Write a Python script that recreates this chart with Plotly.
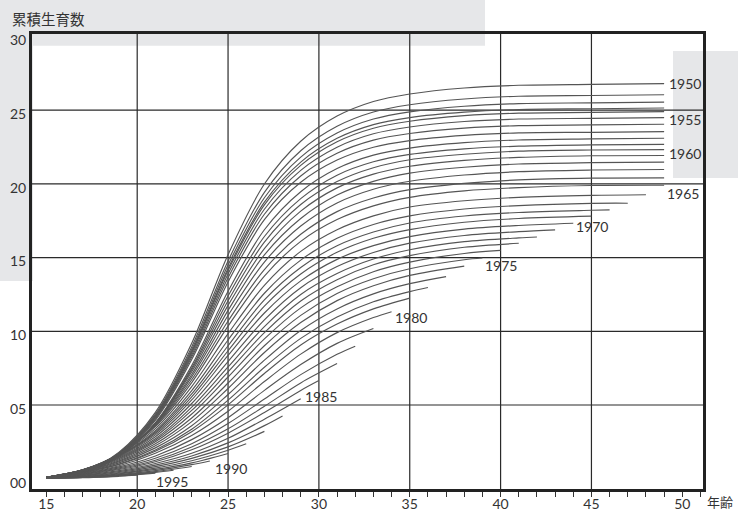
import plotly.graph_objects as go

# ---------------- data ----------------
AGE_KNOTS = [15, 17, 19, 21, 23, 25, 27, 29, 31, 33, 35, 38, 41, 45, 49]
COHORTS = list(range(1950, 1996))
LAST_AGE = [49] * 16 + [48, 47, 46, 45, 44, 43, 42, 41, 40, 39, 38, 37, 36, 35, 34,
                        33, 32, 31, 30, 29, 28, 27, 26, 25, 24, 23, 22, 21, 20, 19]

c1950 = [0.05, 0.46, 1.80, 4.50, 9.19, 15.20, 19.99, 22.89, 24.60, 25.59, 26.10, 26.51, 26.69, 26.75, 26.80]
c1951 = [0.05, 0.44, 1.75, 4.38, 8.94, 14.77, 19.43, 22.25, 23.91, 24.88, 25.37, 25.76, 25.95, 26.00, 26.05]
c1952 = [0.05, 0.43, 1.71, 4.29, 8.76, 14.49, 19.06, 21.82, 23.45, 24.40, 24.89, 25.27, 25.45, 25.50, 25.55]
c1953 = [0.05, 0.43, 1.69, 4.23, 8.63, 14.26, 18.76, 21.48, 23.09, 24.02, 24.50, 24.87, 25.05, 25.10, 25.15]
c1954 = [0.05, 0.42, 1.67, 4.18, 8.54, 14.12, 18.58, 21.26, 22.86, 23.78, 24.25, 24.63, 24.80, 24.85, 24.90]
c1955 = [0.05, 0.42, 1.64, 4.12, 8.40, 13.89, 18.28, 20.92, 22.49, 23.40, 23.86, 24.23, 24.40, 24.45, 24.50]
c1956 = [0.05, 0.41, 1.61, 4.04, 8.25, 13.64, 17.94, 20.54, 22.08, 22.97, 23.42, 23.78, 23.95, 24.00, 24.05]
c1957 = [0.05, 0.40, 1.58, 3.96, 8.08, 13.35, 17.57, 20.11, 21.62, 22.49, 22.94, 23.29, 23.46, 23.50, 23.55]
c1958 = [0.05, 0.39, 1.52, 3.79, 7.67, 12.71, 16.89, 19.47, 21.04, 21.95, 22.43, 22.80, 22.98, 23.05, 23.10]
c1959 = [0.06, 0.43, 1.57, 3.77, 7.51, 12.39, 16.43, 19.00, 20.59, 21.50, 22.00, 22.38, 22.56, 22.65, 22.68]
c1960 = [0.07, 0.47, 1.59, 3.73, 7.40, 12.07, 16.05, 18.60, 20.16, 21.10, 21.64, 22.01, 22.22, 22.30, 22.33]
c1961 = [0.08, 0.50, 1.62, 3.72, 7.25, 11.76, 15.61, 18.15, 19.73, 20.66, 21.20, 21.60, 21.80, 21.91, 21.93]
c1962 = [0.09, 0.54, 1.66, 3.70, 7.07, 11.42, 15.18, 17.65, 19.24, 20.17, 20.73, 21.13, 21.35, 21.44, 21.48]
c1963 = [0.10, 0.57, 1.68, 3.64, 6.91, 11.07, 14.70, 17.14, 18.71, 19.64, 20.18, 20.60, 20.83, 20.94, 20.98]
c1964 = [0.10, 0.59, 1.68, 3.60, 6.71, 10.70, 14.19, 16.58, 18.12, 19.04, 19.61, 20.04, 20.27, 20.39, 20.41]
c1965 = [0.10, 0.60, 1.68, 3.53, 6.52, 10.35, 13.75, 16.10, 17.58, 18.51, 19.09, 19.53, 19.75, 19.89, 19.91]
c1966 = [0.10, 0.60, 1.64, 3.40, 6.25, 9.84, 13.12, 15.42, 16.89, 17.83, 18.43, 18.86, 19.09, 19.22, 19.26]
c1967 = [0.10, 0.60, 1.59, 3.26, 5.98, 9.41, 12.58, 14.83, 16.31, 17.25, 17.83, 18.30, 18.53, 18.68, 18.69]
c1968 = [0.10, 0.60, 1.57, 3.17, 5.75, 9.02, 12.13, 14.33, 15.81, 16.74, 17.35, 17.82, 18.06, 18.21, 18.24]
c1969 = [0.10, 0.59, 1.54, 3.08, 5.55, 8.68, 11.71, 13.89, 15.36, 16.31, 16.90, 17.40, 17.65, 17.81]
c1970 = [0.10, 0.59, 1.50, 2.97, 5.34, 8.36, 11.24, 13.42, 14.88, 15.81, 16.42, 16.93, 17.18, 17.33]
c1971 = [0.10, 0.58, 1.45, 2.85, 5.10, 7.95, 10.78, 12.96, 14.39, 15.35, 15.98, 16.50, 16.76, 16.88]
c1972 = [0.10, 0.57, 1.40, 2.71, 4.85, 7.58, 10.32, 12.50, 13.92, 14.90, 15.53, 16.08, 16.34, 16.40]
c1973 = [0.10, 0.55, 1.35, 2.61, 4.63, 7.24, 9.91, 12.06, 13.50, 14.51, 15.13, 15.70, 15.97]
c1974 = [0.10, 0.54, 1.29, 2.51, 4.39, 6.90, 9.48, 11.59, 13.02, 14.04, 14.69, 15.28, 15.49]
c1975 = [0.10, 0.51, 1.21, 2.37, 4.12, 6.49, 9.02, 11.08, 12.56, 13.56, 14.24, 14.85, 14.97]
c1976 = [0.10, 0.48, 1.15, 2.23, 3.87, 6.12, 8.56, 10.59, 12.08, 13.09, 13.79, 14.42]
c1977 = [0.10, 0.45, 1.07, 2.09, 3.59, 5.71, 8.04, 10.06, 11.52, 12.54, 13.23, 13.71]
c1978 = [0.10, 0.44, 0.99, 1.95, 3.36, 5.33, 7.56, 9.52, 10.97, 12.00, 12.69, 12.97]
c1979 = [0.10, 0.42, 0.96, 1.86, 3.19, 5.01, 7.14, 9.07, 10.49, 11.52, 12.25]
c1980 = [0.10, 0.40, 0.88, 1.72, 2.93, 4.58, 6.59, 8.45, 9.91, 10.93, 11.33]
c1981 = [0.09, 0.36, 0.80, 1.54, 2.65, 4.14, 5.99, 7.74, 9.18, 10.19]
c1982 = [0.09, 0.33, 0.73, 1.39, 2.37, 3.74, 5.40, 7.06, 8.44, 8.99]
c1983 = [0.08, 0.30, 0.67, 1.25, 2.15, 3.38, 4.91, 6.50, 7.81]
c1984 = [0.08, 0.28, 0.62, 1.15, 1.96, 3.09, 4.49, 5.99, 6.66]
c1985 = [0.07, 0.24, 0.55, 1.03, 1.72, 2.74, 4.04, 5.43]
c1986 = [0.07, 0.21, 0.48, 0.92, 1.54, 2.43, 3.60, 4.26]
c1987 = [0.06, 0.18, 0.42, 0.82, 1.38, 2.16, 3.21]
c1988 = [0.06, 0.16, 0.37, 0.72, 1.22, 1.93, 2.37]
c1989 = [0.05, 0.13, 0.33, 0.63, 1.07, 1.71]
c1990 = [0.04, 0.12, 0.28, 0.55, 0.95, 1.20]
c1991 = [0.04, 0.11, 0.25, 0.48, 0.83]
c1992 = [0.03, 0.10, 0.22, 0.43, 0.57]
c1993 = [0.03, 0.08, 0.19, 0.38]
c1994 = [0.03, 0.08, 0.17, 0.24]
c1995 = [0.02, 0.07, 0.16]

SERIES = [c1950, c1951, c1952, c1953, c1954, c1955, c1956, c1957, c1958, c1959,
          c1960, c1961, c1962, c1963, c1964, c1965, c1966, c1967, c1968, c1969,
          c1970, c1971, c1972, c1973, c1974, c1975, c1976, c1977, c1978, c1979,
          c1980, c1981, c1982, c1983, c1984, c1985, c1986, c1987, c1988, c1989,
          c1990, c1991, c1992, c1993, c1994, c1995]

LABELED = [1950, 1955, 1960, 1965, 1970, 1975, 1980, 1985, 1990, 1995]
X_TICKS = [15, 20, 25, 30, 35, 40, 45, 50]
Y_TICKS = [0, 5, 10, 15, 20, 25, 30]
Y_TICKTEXT = ["00", "05", "10", "15", "20", "25", "30"]
X_GRID = [20, 25, 30, 35, 40, 45]
Y_GRID = [5, 10, 15, 20, 25]

# ---------------- style ----------------
LINE_COLOR = "#555555"
TEXT_COLOR = "#333333"
AXIS_COLOR = "#222222"
GRAY = "#e6e7e9"
FONT = "Lato, 'Noto Sans', sans-serif"
CJK = "'Noto Sans CJK JP', 'Noto Sans CJK SC', sans-serif"

W, H = 738, 512
L, R, T, B = 32, 703, 34, 489        # plot area in pixels
PW, PH = R - L, B - T


def px(xp):
    return (xp - L) / PW


def py(yp):
    return (B - yp) / PH


# label offsets (pixels) relative to line ends
LABEL_SHIFT = {1950: (3, 0), 1955: (3, -2), 1960: (3, -4), 1965: (1, -8),
               1970: (1, -3), 1975: (1, -7), 1980: (1, -6), 1985: (2, 2),
               1990: (3, -7), 1995: (35, -5)}

fig = go.Figure()

ends = {}
for cohort, last, vals in zip(COHORTS, LAST_AGE, SERIES):
    xs = [a for a in AGE_KNOTS if a < last] + [last]
    fig.add_trace(go.Scatter(
        x=xs, y=vals, mode="lines",
        line=dict(color=LINE_COLOR, width=1.15, shape="spline", smoothing=0.9),
        hoverinfo="skip", showlegend=False,
    ))
    ends[cohort] = (xs[-1], vals[-1])

shapes = [
    # decorative gray panels
    dict(type="rect", xref="paper", yref="paper", x0=px(0), x1=px(485),
         y0=py(45.7), y1=py(0), fillcolor=GRAY, line_width=0, layer="below"),
    dict(type="rect", xref="paper", yref="paper", x0=px(0), x1=px(33),
         y0=py(281), y1=py(0), fillcolor=GRAY, line_width=0, layer="below"),
    dict(type="rect", xref="paper", yref="paper", x0=px(673), x1=px(738),
         y0=py(178), y1=py(51), fillcolor=GRAY, line_width=0, layer="below"),
]
for gx in X_GRID:
    shapes.append(dict(type="line", xref="x", yref="paper", x0=gx, x1=gx, y0=0, y1=1,
                       line=dict(color="#2a2a2a", width=1.2), layer="below"))
for gy in Y_GRID:
    shapes.append(dict(type="line", xref="paper", yref="y", x0=0, x1=1, y0=gy, y1=gy,
                       line=dict(color="#2a2a2a", width=1.2), layer="below"))

annotations = []
for cohort in LABELED:
    ex, ey = ends[cohort]
    dx, dy = LABEL_SHIFT[cohort]
    annotations.append(dict(x=ex, y=ey, xref="x", yref="y", text=str(cohort),
                            showarrow=False, xanchor="left", yanchor="middle",
                            xshift=dx, yshift=dy,
                            font=dict(family=FONT, size=14, color=TEXT_COLOR)))

annotations.append(dict(x=px(10), y=py(18.5), xref="paper", yref="paper",
                        text="累積生育数", showarrow=False, xanchor="left", yanchor="middle",
                        font=dict(family=CJK, size=14.5, color=TEXT_COLOR)))
annotations.append(dict(x=px(734), y=py(502), xref="paper", yref="paper",
                        text="年齢", showarrow=False, xanchor="right", yanchor="middle",
                        borderpad=0,
                        font=dict(family=CJK, size=13, color=TEXT_COLOR)))

fig.update_layout(
    width=W, height=H,
    margin=dict(l=L, r=W - R, t=T, b=H - B, autoexpand=False),
    paper_bgcolor="white", plot_bgcolor="rgba(0,0,0,0)",
    showlegend=False, hovermode=False,
    shapes=shapes, annotations=annotations,
    font=dict(family=FONT, size=14, color=TEXT_COLOR),
    xaxis=dict(range=[14.21, 51.14], tickmode="array", tickvals=X_TICKS,
               ticktext=[str(v) for v in X_TICKS], automargin=False,
               ticks="outside", ticklen=5, tickwidth=1, tickcolor="#333",
               ticklabelstandoff=-5,
               minor=dict(tickmode="linear", tick0=15, dtick=1, ticks="outside",
                          ticklen=5, tickwidth=1, tickcolor="#333", showgrid=False),
               showgrid=False, zeroline=False, showline=True, mirror=True,
               linewidth=3, linecolor=AXIS_COLOR,
               tickfont=dict(family=FONT, size=14, color=TEXT_COLOR)),
    yaxis=dict(range=[-0.7, 30.17], tickmode="array", tickvals=Y_TICKS,
               ticktext=Y_TICKTEXT, ticks="", showgrid=False, zeroline=False,
               automargin=False, ticklabelshift=4,
               showline=True, mirror=True, linewidth=3, linecolor=AXIS_COLOR,
               tickfont=dict(family=FONT, size=14, color=TEXT_COLOR)),
)

fig.write_html("out.html", config={"displayModeBar": False, "staticPlot": True})

# remove the browser's default page margin so the figure sits at the window origin
with open("out.html", "r", encoding="utf-8") as fh:
    html = fh.read()
html = html.replace("<head>", "<head><style>html,body{margin:0;padding:0;overflow:hidden;}</style>", 1)
with open("out.html", "w", encoding="utf-8") as fh:
    fh.write(html)
